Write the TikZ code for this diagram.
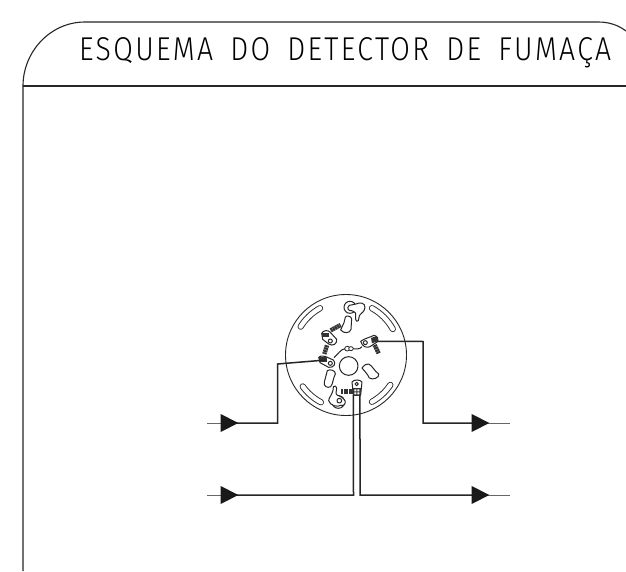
\documentclass[tikz,border=0pt]{standalone}
\usepackage{fontspec}
\usetikzlibrary{calc}
\newfontfamily\titlefont[FakeStretch=0.86,LetterSpace=7]{Fira Sans Light}
\tikzset{
 frameline/.style={line width=1.1pt,black!85},
 wire/.style={line width=1.5pt,black!85,line join=miter},
 lead/.style={line width=0.7pt,black!60},
 part/.style={line width=1pt,black!85,line join=round,fill=white},
 screw/.style={line width=4.4pt,black!80,dash pattern=on 2pt off 0.5pt},
 tip/.style={fill=black!90,draw=none},
}
\newcommand{\slotarc}[2]{%
 \draw[line width=6.2pt,black!85,line cap=round] ($(hub)+(#1:53.5)$) arc[start angle=#1,end angle=#2,radius=53.5];
 \draw[line width=4.4pt,white,line cap=round] ($(hub)+(#1:53.5)$) arc[start angle=#1,end angle=#2,radius=53.5];}
\newcommand{\tipat}[1]{\fill[tip] ($(#1)+(-8.8,-9)$) -- ($(#1)+(8.8,0)$) -- ($(#1)+(-8.8,9)$) -- cycle;}
\begin{document}
\begin{tikzpicture}[x=1pt,y=-1pt]
\useasboundingbox (0,0) rectangle (626,572);
\fill[white] (0,0) rectangle (626,572);
% frame
\coordinate (fa) at (23,571);
\coordinate (fb) at (23,86);
\coordinate (fc) at (85,22);
\coordinate (fd) at (598,22);
\coordinate (fe) at (626,31);
\coordinate (ff) at (626,86);
\draw[frameline] (fa) -- (fb) .. controls (23,52) and (50,22) .. (fc) -- (fd) .. controls (609,22) and (618,25) .. (fe);
\draw[frameline] (fb) -- (ff);
\node[inner sep=0pt,anchor=base west] (title) at (79,60.5) {\fontsize{33}{33}\titlefont ESQUEMA\hspace{7pt} DO\hspace{7pt} DETECTOR\hspace{7pt} DE\hspace{7pt} FUMAÇA};
% detector body
\coordinate (hub) at (346,355);
\draw[line width=0.9pt,black!85] (hub) circle[radius=60.5];
\slotarc{118}{144}
\slotarc{34}{61}
\slotarc{212}{241}
\slotarc{299}{331}
\begin{scope}[shift={(270,280)},x=0.3333pt,y=-0.3333pt]
\coordinate (c) at (236,258);
\draw[part] (c) circle[radius=28];
% top hook
\draw[part] (240,82) circle[radius=18];
\draw[part] (258,72) .. controls (268,66) and (286,68) .. (285,82) .. controls (284,98) and (270,100) .. (268,108) -- (265,122) .. controls (262,126) and (257,124) .. (257,118) -- (257,100) .. controls (255,95) and (250,95) .. (245,92) .. controls (236,94) and (228,84) .. (238,76) .. controls (245,72) and (252,76) .. cycle;
% top bottle
\draw[part] (226,112) .. controls (228,105) and (243,108) .. (245,116) -- (243,148) .. controls (240,160) and (222,162) .. (212,150) -- (222,128) -- cycle;
\draw[screw] (182,151) -- (212,135);
% terminal A
\draw[part] (155,160) .. controls (160,150) and (175,150) .. (180,156) -- (200,178) .. controls (202,192) and (188,200) .. (176,192) -- (158,178) -- cycle;
\draw[part] (181,183) circle[radius=6];
\fill[black!80] (156,158) rectangle (178,172);
\draw[screw] (171,196) -- (163,222);
% terminal B
\draw[part] (146,232) .. controls (150,226) and (165,228) .. (172,232) -- (190,240) .. controls (200,250) and (192,264) .. (176,262) -- (150,248) -- cycle;
\draw[part] (181,250) circle[radius=6];
\fill[black!80] (147,231) rectangle (170,245);
% lower-left bottle
\draw[part] (172,272) .. controls (180,266) and (198,272) .. (196,282) .. controls (188,298) and (190,310) .. (182,320) .. controls (172,326) and (160,318) .. (163,306) -- cycle;
% resistor and leads
\draw[line width=1pt,black!85] (192,233) .. controls (205,222) and (212,207) .. (226,206);
\draw[line width=1pt,black!85] (246,206) .. controls (258,206) and (268,210) .. (276,200);
\draw[line width=0.8pt,black!85,fill=white] (232,206) ellipse[x radius=8,y radius=7];
\draw[line width=0.8pt,black!85,fill=white] (243,206) ellipse[x radius=7,y radius=6];
% terminal C
\draw[part] (272,184) .. controls (282,176) and (300,172) .. (312,166) .. controls (322,168) and (326,176) .. (324,184) -- (300,200) .. controls (290,204) and (278,202) .. cycle;
\draw[part] (286,188) circle[radius=6];
\fill[black!80] (303,174) -- (320,168) -- (324,183) -- (306,190) -- cycle;
\draw[screw] (314,195) -- (326,220);
% right bottle
\draw[part] (276,264) .. controls (282,256) and (290,250) .. (296,252) .. controls (308,258) and (312,272) .. (326,282) .. controls (330,292) and (308,302) .. (298,294) .. controls (292,280) and (282,272) .. cycle;
% lower-left hook
\draw[part] (205,366) circle[radius=19];
\draw[part] (190,320) .. controls (194,316) and (200,318) .. (200,324) -- (198,340) .. controls (200,350) and (215,345) .. (225,362) .. controls (228,372) and (222,378) .. (212,376) .. controls (205,382) and (180,378) .. (176,362) .. controls (176,350) and (190,345) .. cycle;
\draw[part] (208,362) circle[radius=7];
% bottom terminal
\coordinate (wa) at (250,345);
\coordinate (wb) at (270,345);
\draw[screw] (214,335) -- (248,335);
\draw[part] (246,306) .. controls (252,298) and (270,298) .. (276,306) -- (272,345) -- (250,345) -- cycle;
\draw[part] (260,312) circle[radius=5];
\fill[black!80] (249,324) rectangle (272,347);
\fill[white] (253,328) rectangle (259,334) (262,328) rectangle (268,334) (253,337) rectangle (259,343) (262,337) rectangle (268,343);
\coordinate (ta) at (168,240);
\coordinate (tc) at (320,184);
\end{scope}
% connectors
\coordinate (la) at (207,423);
\coordinate (lb) at (221,423);
\coordinate (lc) at (277.5,423);
\coordinate (ld) at (277.5,364);
\coordinate (ra) at (510,423);
\coordinate (rb) at (472,423);
\coordinate (rc) at (423,423);
\coordinate (rd) at (423,341.5);
\coordinate (ba) at (207,495);
\coordinate (bb) at (221,495);
\coordinate (bc) at (353.5,495);
\coordinate (ca) at (510,495);
\coordinate (cb) at (472,495);
\coordinate (cc) at (360,495);
\draw[wire] (lb) -- (lc) -- (ld) -- (ta);
\draw[wire] (rb) -- (rc) -- (rd) -- (tc);
\draw[wire] (bb) -- (bc) -- (wa);
\draw[wire] (cb) -- (cc) -- (wb);
\draw[lead] (la) -- (lb);
\draw[lead] (ra) -- (rb);
\draw[lead] (ba) -- (bb);
\draw[lead] (ca) -- (cb);
\coordinate (m1) at (229.5,423);\tipat{m1}
\coordinate (m2) at (229.5,495);\tipat{m2}
\coordinate (m3) at (480.5,423);\tipat{m3}
\coordinate (m4) at (480.5,495);\tipat{m4}
\end{tikzpicture}
\end{document}
